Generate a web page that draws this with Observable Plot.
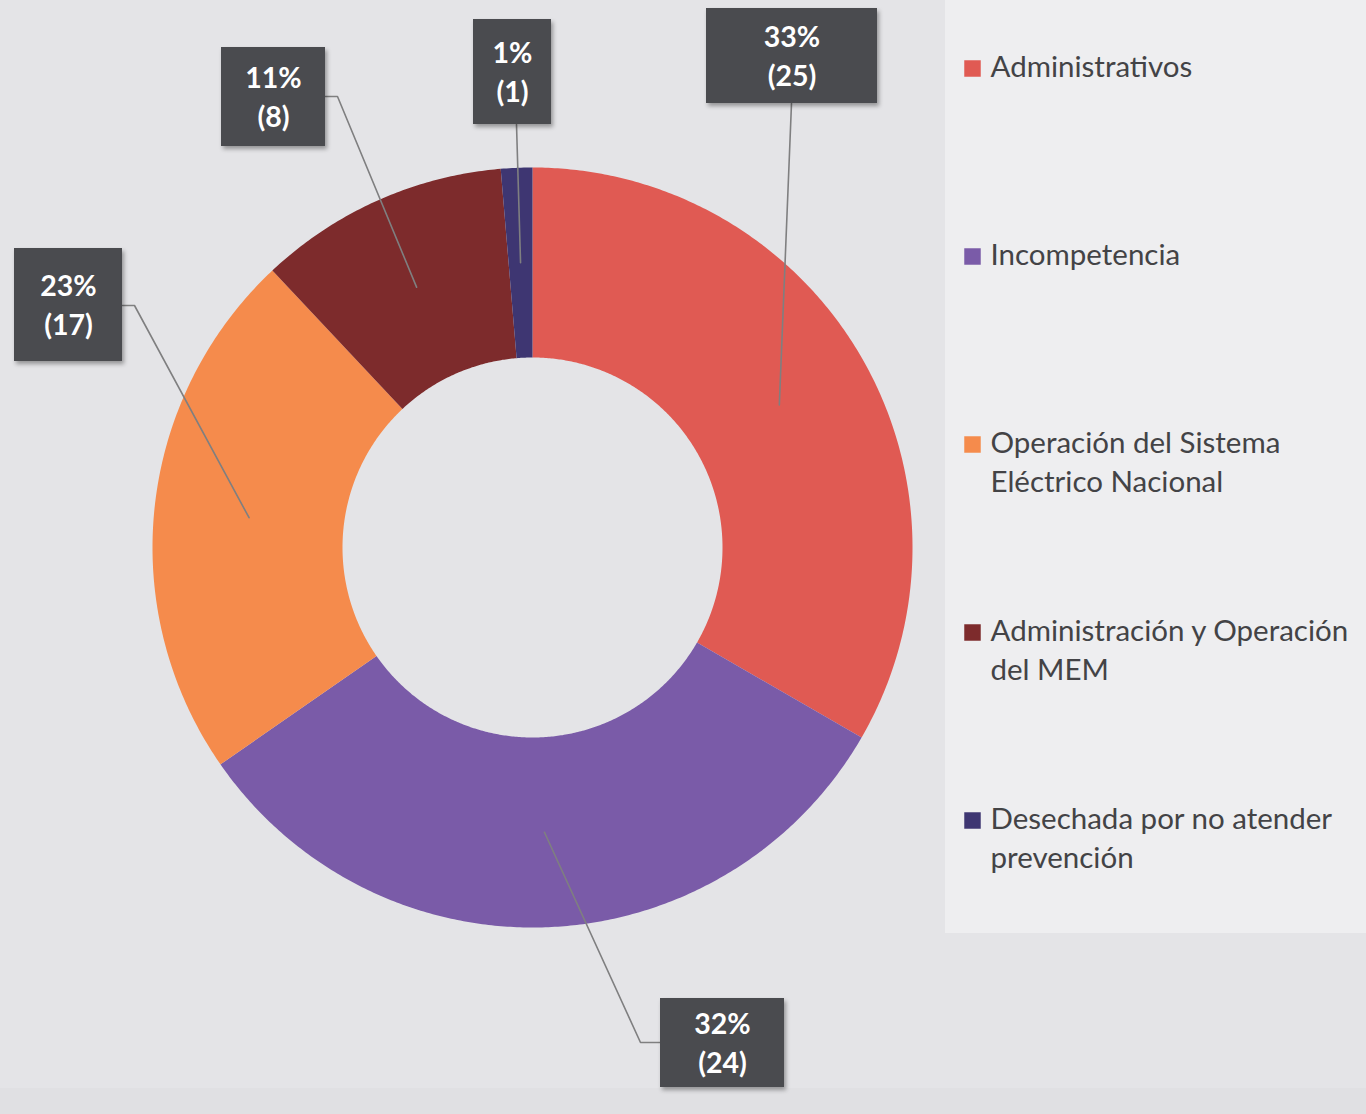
<!DOCTYPE html>
<html>
<head>
<meta charset="utf-8">
<script src="https://cdn.jsdelivr.net/npm/d3@7"></script>
<script src="https://cdn.jsdelivr.net/npm/@observablehq/plot@0.6"></script>
<style>
  html, body { margin: 0; padding: 0; background: #e4e4e7; }
  #wrap { position: relative; width: 1366px; height: 1114px; overflow: hidden; }
  .panel { position: absolute; left: 945px; top: 0; width: 421px; height: 933px; background: #eeeef0; }
  .bottom { position: absolute; left: 0; top: 1088px; width: 1366px; height: 26px; background: #e0e0e3; }
  #chart { position: absolute; left: 0; top: 0; }
</style>
</head>
<body>
<div id="wrap"><div class="panel"></div><div class="bottom"></div><div id="chart"></div></div>
<script>
// ---- data ----
const categories = [
  "Administrativos",
  "Incompetencia",
  "Operación del Sistema Eléctrico Nacional",
  "Administración y Operación del MEM",
  "Desechada por no atender prevención"
];
const values = [25, 24, 17, 8, 1];
const legendLabels = [
  "Administrativos",
  "Incompetencia",
  "Operación del Sistema\nEléctrico Nacional",
  "Administración y Operación\ndel MEM",
  "Desechada por no atender\nprevención"
];
const colors = ["#e05a53", "#7a5ba8", "#f58b4c", "#7d2b2c", "#3e3672"];

// ---- layout (pixels) ----
const W = 1366, H = 1114;
const CX = 532, CY = 547, R = 380;      // donut centre and outer radius
const innerFrac = 0.5, anchorFrac = 0.75;
// label boxes: [x1, y1, x2, y2] and leader path points (pixel) from box towards slice
const boxes = [
  [706, 8, 877, 103],
  [660, 998, 784, 1087],
  [14, 248, 122, 361],
  [221, 47, 325, 146],
  [473, 19, 551, 124]
];
const leaderStarts = [
  [[791, 103]],
  [[660, 1042], [640, 1042]],
  [[122, 305], [134, 305]],
  [[325, 96], [337, 96]],
  [[516, 124]]
];
const legendX = 972, legendTextX = 990;
const legendY = [68, 256, 444, 632, 820];

// pixel -> data units
const ux = (px) => (px - CX) / R;
const uy = (py) => (CY - py) / R;

// ---- derived geometry ----
const total = d3.sum(values);
const pie = d3.pie().sort(null).value(d => d.value)(categories.map((c, i) => ({cat: c, value: values[i]})));

const slicePts = [];
pie.forEach(p => {
  const n = Math.max(4, Math.ceil((p.endAngle - p.startAngle) * 120));
  for (let k = 0; k <= n; k++) {
    const a = p.startAngle + (p.endAngle - p.startAngle) * k / n;
    slicePts.push({cat: p.data.cat, x: Math.sin(a), y: Math.cos(a)});
  }
  for (let k = n; k >= 0; k--) {
    const a = p.startAngle + (p.endAngle - p.startAngle) * k / n;
    slicePts.push({cat: p.data.cat, x: innerFrac * Math.sin(a), y: innerFrac * Math.cos(a)});
  }
});

const leaders = [];
pie.forEach((p, i) => {
  const mid = (p.startAngle + p.endAngle) / 2;
  leaderStarts[i].forEach(([px, py]) => leaders.push({cat: p.data.cat, x: ux(px), y: uy(py)}));
  leaders.push({cat: p.data.cat, x: anchorFrac * Math.sin(mid), y: anchorFrac * Math.cos(mid)});
});

const labels = pie.map((p, i) => {
  const [x1, y1, x2, y2] = boxes[i];
  return {
    cat: p.data.cat,
    x1: ux(x1), x2: ux(x2), y1: uy(y1), y2: uy(y2),
    x: ux((x1 + x2) / 2), y: uy((y1 + y2) / 2 - 2),
    text: Math.round(p.data.value / total * 100) + "%\n(" + p.data.value + ")"
  };
});

const legend = categories.map((c, i) => ({
  cat: c, label: legendLabels[i], x: ux(legendX), tx: ux(legendTextX), y: uy(legendY[i]), ty: uy(legendY[i] - 19)
}));

const chart = Plot.plot({
  width: W, height: H,
  margin: 0,
  style: {background: "transparent", overflow: "visible"},
  x: {domain: [ux(0), ux(W)], axis: null},
  y: {domain: [uy(H), uy(0)], axis: null},
  color: {domain: categories, range: colors},
  marks: [
    Plot.line(slicePts, {x: "x", y: "y", z: "cat", fill: "cat", stroke: null, curve: "linear"}),
    Plot.line(leaders, {x: "x", y: "y", z: "cat", stroke: "#7f7f80", strokeWidth: 1.6, curve: "linear"}),
    Plot.rect(labels, {x1: "x1", x2: "x2", y1: "y1", y2: "y2", fill: "#4a4b4f"}),
    Plot.text(labels, {x: "x", y: "y", text: "text", fill: "#ffffff", fontSize: 28.5, fontWeight: "bold",
      fontFamily: "Lato, 'Open Sans', sans-serif", lineHeight: 1.37, lineAnchor: "middle"}),
    Plot.dot(legend, {x: "x", y: "y", fill: "cat", symbol: "square", r: 9.3, stroke: null}),
    Plot.text(legend, {x: "tx", y: "ty", text: "label", textAnchor: "start", lineAnchor: "top",
      fill: "#434346", fontSize: 29.5, fontFamily: "Lato, 'Open Sans', sans-serif", lineHeight: 1.32})
  ]
});
chart.querySelectorAll('g[aria-label="rect"] rect').forEach(r => r.style.filter = "drop-shadow(2px 3px 2px rgba(0,0,0,0.35))");
document.getElementById("chart").appendChild(chart);
</script>
</body>
</html>
